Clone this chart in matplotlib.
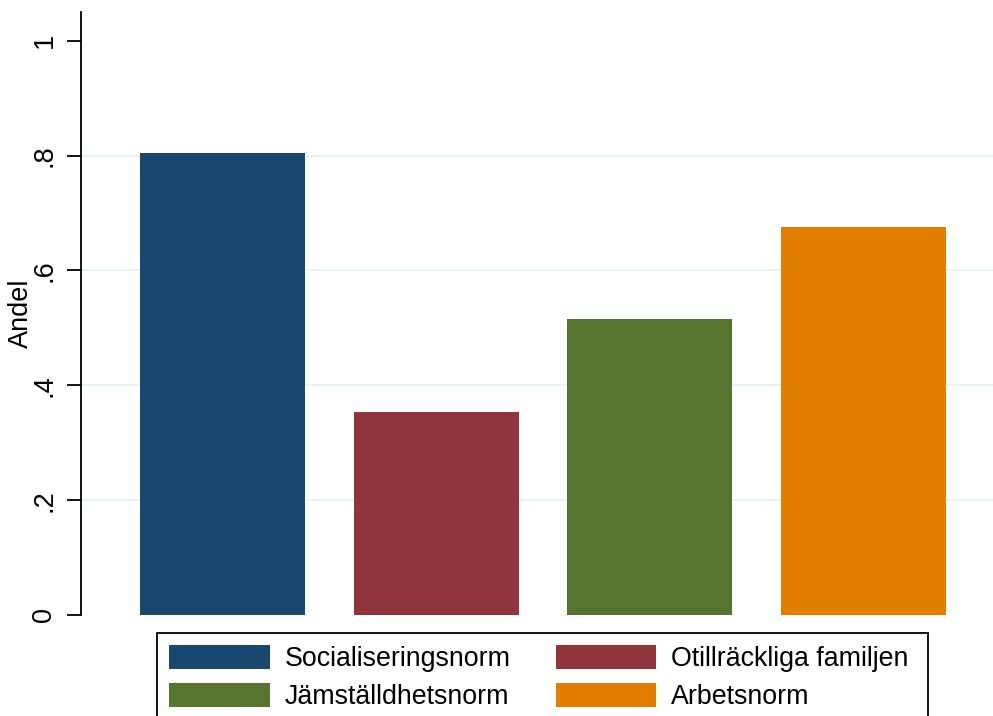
import matplotlib.pyplot as plt
from matplotlib.patches import Rectangle
import numpy as np

plt.rcParams['font.family'] = ['Liberation Sans', 'DejaVu Sans']

# Data
categories = ["Socialiseringsnorm", "Otillräckliga familjen", "Jämställdhetsnorm", "Arbetsnorm"]
values = [0.805, 0.354, 0.516, 0.676]
colors = ["#1a476f", "#90353b", "#55752f", "#e37e00"]
yticks = [0, 0.2, 0.4, 0.6, 0.8, 1.0]
ytick_labels = ["0", ".2", ".4", ".6", ".8", "1"]

W, H = 993, 716
fig = plt.figure(figsize=(W / 100, H / 100), dpi=100)
ax = fig.add_axes([81 / W, 1 - 615 / H, 1 - 81 / W, (615 - 12) / H])

x = np.arange(len(categories))
bars = ax.bar(x, values, width=0.773, color=colors, zorder=3)

ax.set_xlim(-0.663, 3.607)
ax.set_ylim(0, 1.05)
ax.set_yticks(yticks)
ax.set_yticklabels(ytick_labels, rotation=90, va='center', fontsize=19.5)
ax.set_xticks([])
for g in yticks[1:-1]:
    ax.axhline(g, color='#eaf2f3', lw=1.5, zorder=1)

for s in ['top', 'right', 'bottom']:
    ax.spines[s].set_visible(False)
ax.spines['left'].set_linewidth(1.3)
ax.tick_params(axis='y', length=10, width=1.3, pad=7)
ax.set_ylabel("Andel", fontsize=19.5, va='center')
ax.yaxis.set_label_coords((21 - 81) / (W - 81), 0.5)

# legend filled row by row, like the original
order = [0, 2, 1, 3]
leg = fig.legend(handles=[bars[i] for i in order],
                 labels=[categories[i] for i in order], ncol=2,
                 loc='upper left', bbox_to_anchor=(157 / W, 1 - 633 / H),
                 borderaxespad=0, fontsize=19.3, handlelength=3.75, handleheight=1.0,
                 labelspacing=0.4, handletextpad=0.56, borderpad=0.45,
                 columnspacing=1.68, frameon=False)

# legend box (wider on the right than matplotlib's padding allows)
fig.patches.append(Rectangle((157 / W, -0.05), (928 - 157) / W, 0.05 + 1 - 633 / H,
                             transform=fig.transFigure, fill=False,
                             edgecolor='black', linewidth=1.3))

fig.savefig("out.png", dpi=100)
